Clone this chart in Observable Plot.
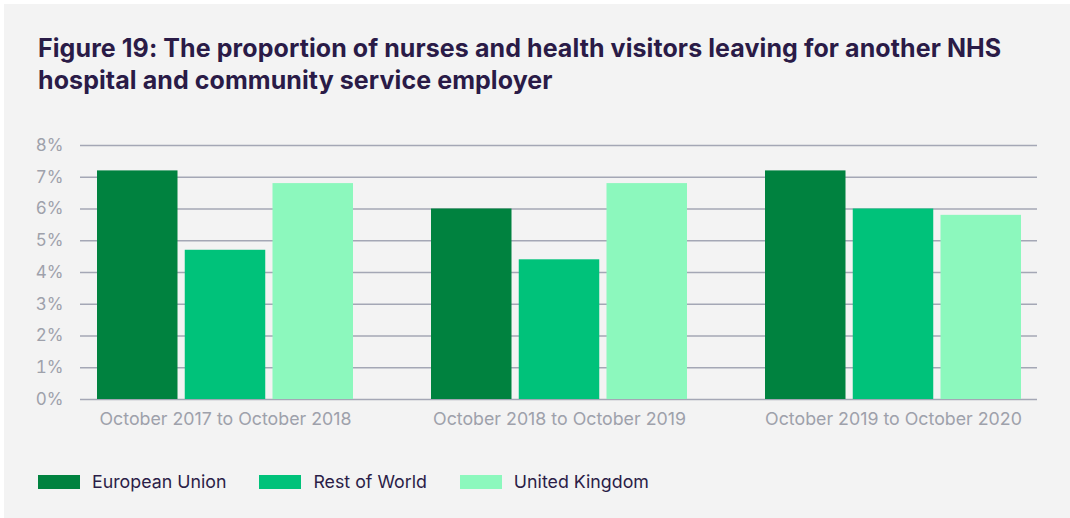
<!DOCTYPE html>
<html>
<head>
<meta charset="utf-8">
<script src="https://cdn.jsdelivr.net/npm/d3@7"></script>
<script src="https://cdn.jsdelivr.net/npm/@observablehq/plot@0.6"></script>
<style>
  html, body { margin: 0; padding: 0; background: #ffffff; }
  #panel { position: absolute; left: 4px; top: 4px; width: 1066px; height: 514px; background: #f3f3f3; overflow: hidden; }
  #title { position: absolute; left: 34px; top: 28px; width: 1030px; font-family: Inter, sans-serif; font-weight: 700; font-size: 25px; line-height: 32px; color: #2a1b47; letter-spacing: 0.08px; white-space: nowrap; }
  #chart { position: absolute; left: -4px; top: 106px; }
  #legend { position: absolute; left: 34px; top: 467px; font-family: Inter, sans-serif; font-size: 17.8px; color: #2b1d47; display: flex; align-items: center; }
  .item { display: flex; align-items: center; margin-right: 33px; }
  .sw { width: 42px; height: 14px; margin-right: 12px; }
</style>
</head>
<body>
<div id="panel">
  <div id="title">Figure 19: The proportion of nurses and health visitors leaving for another NHS<br>hospital and community service employer</div>
  <div id="chart"></div>
  <div id="legend"></div>
</div>
<script>
const groups = ["October 2017 to October 2018", "October 2018 to October 2019", "October 2019 to October 2020"];
const series = ["European Union", "Rest of World", "United Kingdom"];
const euValues = [7.2, 6.0, 7.2];
const rowValues = [4.7, 4.4, 6.0];
const ukValues = [6.8, 6.8, 5.8];
const colors = ["#00823f", "#00c27a", "#8cf8bd"];
const yTicks = [0, 1, 2, 3, 4, 5, 6, 7, 8];

const valuesBySeries = [euValues, rowValues, ukValues];
const data = [];
series.forEach((s, i) => groups.forEach((g, j) => data.push({group: g, series: s, value: valuesBySeries[i][j]})));

const barW = 80, gap = 7.75;
const barMarks = series.map((s, i) => Plot.barY(data.filter(d => d.series === s), {
  x: "group", y: "value", fill: colors[i],
  insetLeft: i * (barW + gap), insetRight: (2 - i) * (barW + gap)
}));

const plot = Plot.plot({
  width: 1070,
  height: 330,
  marginLeft: 80,
  marginRight: 33,
  marginTop: 35,
  marginBottom: 41,
  style: { background: "transparent", fontFamily: "Inter, sans-serif", overflow: "visible" },
  x: { domain: groups, paddingInner: 0.235, paddingOuter: 0.05, label: null, tickSize: 0, tickPadding: 13 },
  y: { domain: [0, 8], ticks: yTicks, tickFormat: d => d + "%", label: null, tickSize: 0, tickPadding: 17 },
  marks: [
    Plot.ruleY(yTicks, { stroke: "#a4a7b5", strokeWidth: 1.5 }),
    ...barMarks
  ]
});
d3.select(plot).selectAll("g[aria-label='x-axis'] text, g[aria-label='x-axis tick label'] text").attr("font-size", 17.8).attr("fill", "#9ea1ab");
d3.select(plot).selectAll("g[aria-label='y-axis'] text, g[aria-label='y-axis tick label'] text").attr("font-size", 17).attr("fill", "#9ea1ab");
document.getElementById("chart").appendChild(plot);

const legend = d3.select("#legend");
series.forEach((s, i) => {
  const it = legend.append("div").attr("class", "item");
  it.append("div").attr("class", "sw").style("background", colors[i]);
  it.append("span").text(s);
});
</script>
</body>
</html>
